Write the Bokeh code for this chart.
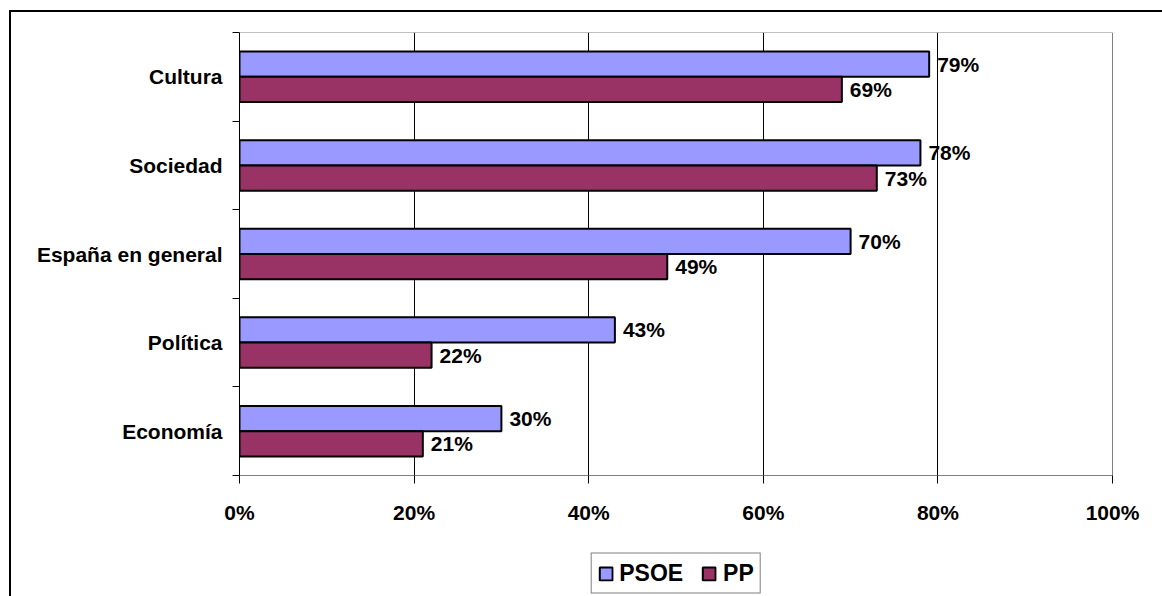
from bokeh.plotting import figure
from bokeh.layouts import column
from bokeh.models import (Range1d, FixedTicker, Legend, LegendItem,
                          LabelSet, ColumnDataSource, Span)
from bokeh.core.properties import value
from bokeh.embed import file_html
from bokeh.resources import INLINE

categories = ["Cultura", "Sociedad", "España en general", "Política", "Economía"]
psoe = [79, 78, 70, 43, 30]
pp = [69, 73, 49, 22, 21]
x_ticks = [0, 20, 40, 60, 80, 100]
x_tick_labels = ["0%", "20%", "40%", "60%", "80%", "100%"]
series_names = ["PSOE", "PP"]
series_colors = ["#9999FF", "#993366"]

FONT = "Liberation Sans"
FS = "21px"

n = len(categories)
centers = [n - i - 0.5 for i in range(n)]
bar_h = 0.285
off = bar_h / 2

src_psoe = ColumnDataSource(dict(y=[c + off for c in centers], v=psoe,
                                 lbl=[f"{v}%" for v in psoe]))
src_pp = ColumnDataSource(dict(y=[c - off for c in centers], v=pp,
                               lbl=[f"{v}%" for v in pp]))
sources = [src_psoe, src_pp]

p = figure(width=1162, height=550, output_backend="svg", toolbar_location=None,
           x_range=Range1d(0, 100), y_range=Range1d(0, n),
           min_border_left=239, min_border_right=50, min_border_top=32,
           min_border_bottom=75)
p.outline_line_color = None
p.background_fill_color = "white"
p.border_fill_alpha = 0
# outer chart border (left and top edges visible in the window)
p.styles = {
    "background": "linear-gradient(#000, #000) 9px 10px / 2px 100% no-repeat, "
                  "linear-gradient(#000, #000) 9px 10px / 100% 2px no-repeat, white"
}

# x axis
p.xaxis.ticker = FixedTicker(ticks=x_ticks)
p.xaxis.major_label_overrides = {t: l for t, l in zip(x_ticks, x_tick_labels)}
p.xaxis.major_label_text_font = FONT
p.xaxis.major_label_text_font_style = "bold"
p.xaxis.major_label_text_font_size = FS
p.xaxis.major_label_text_color = "black"
p.xaxis.major_tick_out = 8
p.xaxis.major_tick_in = 0
p.xaxis.major_tick_line_color = "black"
p.xaxis.minor_tick_line_color = None
p.xaxis.axis_line_color = "#808080"
p.xaxis.major_label_standoff = 17

# y axis
p.yaxis.ticker = FixedTicker(ticks=centers, minor_ticks=list(range(n + 1)))
p.yaxis.major_label_overrides = {c: name for c, name in zip(centers, categories)}
p.yaxis.major_label_text_font = FONT
p.yaxis.major_label_text_font_style = "bold"
p.yaxis.major_label_text_font_size = FS
p.yaxis.major_label_text_color = "black"
p.yaxis.major_tick_out = 0
p.yaxis.major_tick_in = 0
p.yaxis.minor_tick_out = 7
p.yaxis.minor_tick_in = 0
p.yaxis.minor_tick_line_color = "black"
p.yaxis.axis_line_color = "black"
p.yaxis.major_label_standoff = 10

# grid
p.xgrid.ticker = FixedTicker(ticks=x_ticks)
p.xgrid.grid_line_color = "black"
p.xgrid.grid_line_width = 1
p.ygrid.grid_line_color = None

p.add_layout(Span(location=n, dimension="width", line_color="#808080", line_width=1))
p.add_layout(Span(location=x_ticks[-1], dimension="height", line_color="black", line_width=1))

for src, color in zip(sources, series_colors):
    p.hbar(y="y", left=0, right="v", height=bar_h, source=src,
           fill_color=color, line_color="black", line_width=2)

for src in sources:
    p.add_layout(LabelSet(x="v", y="y", text="lbl", source=src, x_offset=8,
                          text_baseline="middle", text_align="left",
                          text_font=value(FONT), text_font_style="bold",
                          text_font_size=FS, text_color="black"))

# legend strip below the chart (same horizontal frame as the chart);
# its bar renderers are hidden and only feed the legend glyphs
pl = figure(width=1162, height=46, output_backend="svg", toolbar_location=None,
            x_range=Range1d(0, 100), y_range=Range1d(n + 1, n + 2),
            x_axis_type=None, y_axis_type=None,
            min_border_left=239, min_border_right=50, min_border_top=0,
            min_border_bottom=0)
pl.outline_line_color = None
pl.grid.visible = False
pl.background_fill_alpha = 0
pl.border_fill_alpha = 0
pl.styles = {
    "background": "linear-gradient(#000, #000) 9px 0 / 2px 100% no-repeat, white"
}
leg_renderers = [pl.hbar(y="y", left=0, right="v", height=bar_h, source=src,
                         fill_color=color, line_color="black", line_width=2,
                         visible=False)
                 for src, color in zip(sources, series_colors)]

legend = Legend(items=[LegendItem(label=name, renderers=[r])
                       for name, r in zip(series_names, leg_renderers)],
                location="center", orientation="horizontal",
                border_line_color="black", border_line_width=1,
                glyph_width=16, glyph_height=16, label_text_font=FONT,
                label_text_font_style="bold", label_text_font_size="23px",
                label_text_color="black",
                label_standoff=6, spacing=18, padding=6, margin=0,
                label_height=21,
                background_fill_color="white", background_fill_alpha=1)
pl.add_layout(legend)

layout = column(p, pl, spacing=0)
open("out.html", "w").write(file_html(layout, INLINE))
